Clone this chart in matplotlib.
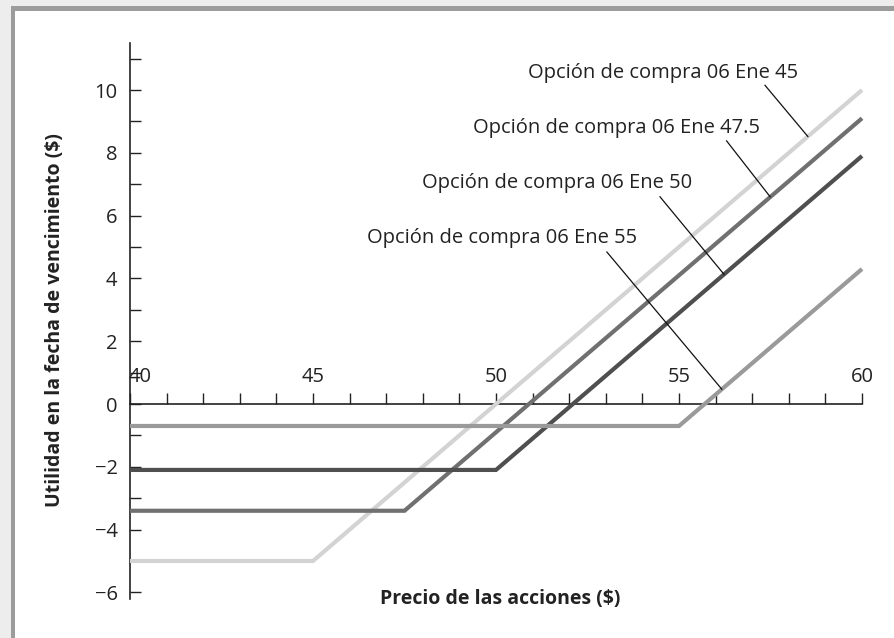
import matplotlib
matplotlib.use('Agg')
import matplotlib.pyplot as plt
from matplotlib.patches import Rectangle
from matplotlib.ticker import MultipleLocator

plt.rcParams['font.family'] = ['Open Sans', 'DejaVu Sans']

# payoff of long calls at expiry: strike and premium paid
strikes = [45, 47.5, 50, 55]
premiums = [5.0, 3.4, 2.1, 0.7]
labels = ['Opción de compra 06 Ene 45', 'Opción de compra 06 Ene 47.5',
          'Opción de compra 06 Ene 50', 'Opción de compra 06 Ene 55']
colors = ['#d3d3d3', '#707070', '#4f4f4f', '#9a9a9a']
price_lo, price_hi = 40, 60

# label text anchor (right edge) and leader line start/end, in data units
label_xy = [(58.25, 10.55), (57.2, 8.8), (55.35, 7.05), (53.85, 5.3)]
leader_from = [(57.35, 10.15), (56.3, 8.38), (54.48, 6.6), (53.03, 4.84)]
leader_to = [(58.52, 8.52), (57.49, 6.6), (56.23, 4.13), (56.17, 0.47)]

W, H = 894, 638
fig = plt.figure(figsize=(W / 100, H / 100), dpi=100, facecolor='#ededed')
fig.patches.append(Rectangle((11 / W, 0), 1, 1 - 6 / H, transform=fig.transFigure,
                             facecolor='#9c9c9c', edgecolor='none', zorder=-2))
fig.patches.append(Rectangle((15 / W, 0), 1, 1 - 11 / H, transform=fig.transFigure,
                             facecolor='white', edgecolor='none', zorder=-1))

ax = fig.add_axes([130 / W, 1 - 601.8 / H, (873 - 130) / W, (601.8 - 39.8) / H])
ax.set_facecolor('none')
ax.set_xlim(40, 60.3)
ax.set_ylim(-6.3, 11.6)

for k, p, c in zip(strikes, premiums, colors):
    xs = [price_lo, k, price_hi]
    ys = [max(x - k, 0) - p for x in xs]
    ax.plot(xs, ys, color=c, lw=3, solid_capstyle='butt', solid_joinstyle='miter',
            clip_on=False, zorder=3)

for lab, (tx, ty), (x0, y0), (x1, y1) in zip(labels, label_xy, leader_from, leader_to):
    ax.text(tx, ty, lab, ha='right', va='center', fontsize=14.5, color='#222222')
    ax.plot([x0, x1], [y0, y1], color='#111111', lw=0.9, zorder=4)

for s in ['top', 'right']:
    ax.spines[s].set_visible(False)
ax.spines['bottom'].set_position(('data', 0))
ax.spines['bottom'].set_bounds(40, 60)
ax.spines['left'].set_bounds(-6.2, 11.5)
for s in ['bottom', 'left']:
    ax.spines[s].set_linewidth(1.2)
    ax.spines[s].set_color('#222222')

ax.xaxis.set_minor_locator(MultipleLocator(1))
ax.yaxis.set_minor_locator(MultipleLocator(1))
ax.set_xticks([40, 45, 50, 55, 60])
ax.set_yticks([-6, -4, -2, 0, 2, 4, 6, 8, 10])
ax.set_yticklabels(['\u22126', '\u22124', '\u22122', '0', '2', '4', '6', '8', '10'])
ax.tick_params(axis='x', which='both', direction='in', length=8, width=1,
               color='#222222', top=False, bottom=True,
               labelbottom=False, labeltop=False)
ax.tick_params(axis='y', which='both', direction='in', length=8, width=1,
               color='#222222', labelsize=14.5, labelcolor='#222222', pad=9)

# x tick labels sit above the zero line
for v in [40, 45, 50, 55, 60]:
    ax.annotate(str(v), (v, 0), xytext=(-1 if v == 40 else 0, 12), textcoords='offset points',
                ha='left' if v == 40 else 'center', va='bottom', fontsize=14.5,
                color='#222222')

fig.text(500 / W, 1 - 599 / H, 'Precio de las acciones ($)', ha='center', va='center',
         fontsize=14, fontweight='bold', color='#222222')
fig.text(55 / W, 1 - 320 / H, 'Utilidad en la fecha de vencimiento ($)', ha='center',
         va='center', rotation=90, fontsize=14, fontweight='bold', color='#222222')

fig.savefig('out.png', dpi=100, facecolor=fig.get_facecolor())
